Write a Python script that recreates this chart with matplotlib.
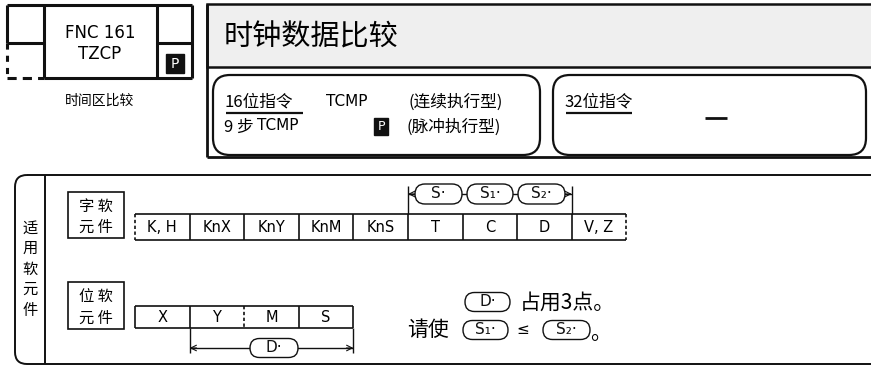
import numpy as np
import matplotlib.pyplot as plt
from matplotlib.patches import Rectangle, FancyBboxPatch

plt.rcParams['font.family'] = ['Noto Sans CJK SC', 'DejaVu Sans']

# text content
fnc_code = 'FNC 161'
fnc_name = 'TZCP'
fnc_desc = '时间区比较'
title = '时钟数据比较'
line16 = ['16位指令', 'TCMP', '(连续执行型)']
line16b = ['9 步', 'TCMP', '(脉冲执行型)']
title32 = '32位指令'
word_label = ['字 软', '元 件']
bit_label = ['位 软', '元 件']
side_label = '适用软元件'
word_devices = ['K, H', 'KnX', 'KnY', 'KnM', 'KnS', 'T', 'C', 'D', 'V, Z']
bit_devices = ['X', 'Y', 'M', 'S']
src_ops = ['S·', 'S₁·', 'S₂·']
note1 = '占用3点。'

BLK = '#111111'

fig = plt.figure(figsize=(8.71, 3.70), dpi=100)
ax = fig.add_axes([0, 0, 1, 1])
ax.set_xlim(0, 871)
ax.set_ylim(370, 0)
ax.axis('off')


def line(x0, y0, x1, y1, lw=1.2, ls='-'):
    ax.plot([x0, x1], [y0, y1], color=BLK, lw=lw, ls=ls, solid_capstyle='butt')


def oval(cx, cy, w, h, label, fs=11, lw=1.0):
    p = FancyBboxPatch((cx - w / 2, cy - h / 2), w, h,
                       boxstyle='round,pad=0,rounding_size=%f' % (h / 2),
                       fc='white', ec=BLK, lw=lw, zorder=5)
    ax.add_patch(p)
    ax.text(cx, cy, label, ha='center', va='center', fontsize=fs, color=BLK,
            family='DejaVu Sans', zorder=6)


def blackP(x, y, w=17, h=17, fs=9):
    ax.add_patch(Rectangle((x, y), w, h, fc=BLK, ec=BLK))
    ax.text(x + w / 2, y + h / 2 + 0.5, 'P', color='white', ha='center',
            va='center', fontsize=fs, family='DejaVu Sans')


def arrow(x_tip, x_tail, y):
    ax.annotate('', xy=(x_tip, y), xytext=(x_tail, y),
                arrowprops=dict(arrowstyle='->', color=BLK, lw=0.8,
                                shrinkA=0, shrinkB=0))


# ---- top-left instruction box
line(7, 5, 192, 5, lw=2.2)
line(44, 78, 192, 78, lw=2.2)
line(7, 5, 7, 43, lw=2.2)
line(7, 43, 7, 78, lw=2.2, ls=(0, (2, 2)))
line(7, 78, 44, 78, lw=2.2, ls=(0, (3, 2)))
line(44, 5, 44, 78, lw=2.2)
line(157, 5, 157, 78, lw=2.2)
line(192, 5, 192, 78, lw=2.2)
line(7, 43, 44, 43, lw=2.2)
line(157, 43, 192, 43, lw=2.2)
blackP(166, 54, 18, 19, fs=10)
ax.text(100, 33, fnc_code, ha='center', va='center', fontsize=12,
        family='DejaVu Sans')
ax.text(100, 54, fnc_name, ha='center', va='center', fontsize=12,
        family='DejaVu Sans')
ax.text(100, 101, fnc_desc, ha='center', va='center', fontsize=10)

# ---- top-right title panel
ax.add_patch(Rectangle((207, 4), 700, 63, fc='#efefef', ec=BLK, lw=1.8))
line(207, 4, 207, 157, lw=2)
line(207, 157, 871, 157, lw=2)
ax.text(224, 37, title, ha='left', va='center', fontsize=21)

for x0, x1 in [(213, 540), (553, 866)]:
    ax.add_patch(FancyBboxPatch((x0, 75), x1 - x0, 80,
                                boxstyle='round,pad=0,rounding_size=17',
                                fc='white', ec=BLK, lw=1.6))

ax.text(224, 102, line16[0], ha='left', va='center', fontsize=12)
line(226, 113, 303, 113, lw=1.6)
ax.text(326, 101, line16[1], ha='left', va='center', fontsize=11,
        family='DejaVu Sans')
ax.text(408, 102, line16[2], ha='left', va='center', fontsize=12)
ax.text(224, 127, line16b[0], ha='left', va='center', fontsize=12)
ax.text(257, 126, line16b[1], ha='left', va='center', fontsize=11,
        family='DejaVu Sans')
blackP(374, 118, 14, 17, fs=9)
ax.text(406, 127, line16b[2], ha='left', va='center', fontsize=12)

ax.text(564, 102, title32, ha='left', va='center', fontsize=12)
line(566, 113, 632, 113, lw=1.6)
line(705, 118, 727, 118, lw=2)

# ---- bottom applicable-device frame
ax.add_patch(FancyBboxPatch((15, 175), 920, 189,
                            boxstyle='round,pad=0,rounding_size=12',
                            fc='none', ec=BLK, lw=1.4))
line(45, 175, 45, 364, lw=1.4)
for i, ch in enumerate(side_label):
    ax.text(30, 228 + i * 20.5, ch, ha='center', va='center', fontsize=11)

# word device block
ax.add_patch(Rectangle((68, 192), 56, 46, fc='none', ec=BLK, lw=1.2))
ax.text(96, 206, word_label[0], ha='center', va='center', fontsize=11)
ax.text(96, 227, word_label[1], ha='center', va='center', fontsize=11)

cw = 54.6
wx0 = 135
wy0, wy1 = 214, 240
wx = wx0 + cw * np.arange(len(word_devices) + 1)
line(wx[0], wy0, wx[-1], wy0, lw=1.2)
line(wx[0], wy1, wx[-1], wy1, lw=1.2)
for i, x in enumerate(wx):
    ls = (0, (2, 1.5)) if i in (0, len(wx) - 1) else '-'
    line(x, wy0, x, wy1, lw=1.2, ls=ls)
for i, lab in enumerate(word_devices):
    ax.text((wx[i] + wx[i + 1]) / 2, (wy0 + wy1) / 2, lab, ha='center',
            va='center', fontsize=10.5, family='DejaVu Sans')

# bracket S, S1, S2 over T..D
bx0, bx1 = wx[5], wx[8]
by = 194
line(bx0, 186, bx0, wy0, lw=1.0)
line(bx1, 186, bx1, wy0, lw=1.0)
line(bx0, by, bx1, by, lw=1.0)
arrow(bx0, bx0 + 7, by)
arrow(bx1, bx1 - 7, by)
for cx, w, lab in zip([438.5, 490, 541.5], [47, 46, 47], src_ops):
    oval(cx, by, w, 20, lab)

# bit device block
ax.add_patch(Rectangle((68, 282), 56, 47, fc='none', ec=BLK, lw=1.2))
ax.text(96, 297, bit_label[0], ha='center', va='center', fontsize=11)
ax.text(96, 318, bit_label[1], ha='center', va='center', fontsize=11)

by0, by1 = 306, 328
bxs = wx0 + cw * np.arange(len(bit_devices) + 1)
line(bxs[0], by0, bxs[-1], by0, lw=1.2)
line(bxs[0], by1, bxs[-1], by1, lw=1.2)
for i, x in enumerate(bxs):
    ls = (0, (2, 1.5)) if i == 2 else '-'
    line(x, by0, x, by1, lw=1.2, ls=ls)
for i, lab in enumerate(bit_devices):
    ax.text((bxs[i] + bxs[i + 1]) / 2, (by0 + by1) / 2, lab, ha='center',
            va='center', fontsize=10.5, family='DejaVu Sans')

# bracket D under Y..S
dx0, dx1 = bxs[1], bxs[4]
dy = 348
line(dx0, by1, dx0, dy + 5, lw=1.0)
line(dx1, by1, dx1, dy + 5, lw=1.0)
line(dx0, dy, dx1, dy, lw=1.0)
arrow(dx0, dx0 + 7, dy)
arrow(dx1, dx1 - 7, dy)
oval(274, dy, 48, 19, 'D·')

# notes
oval(487.5, 302, 45, 19, 'D·')
ax.text(520, 303, note1, ha='left', va='center', fontsize=15)
ax.text(407, 330, '请使', ha='left', va='center', fontsize=15)
oval(485.5, 330, 45, 19, 'S₁·')
ax.text(523, 330, '≤', ha='center', va='center', fontsize=11,
        family='DejaVu Sans')
oval(566.5, 330, 47, 19, 'S₂·')
ax.text(590, 333, '。', ha='left', va='center', fontsize=15)

fig.savefig('out.png', dpi=100)
